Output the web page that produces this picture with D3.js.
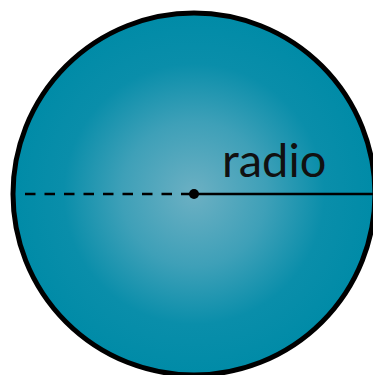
<!DOCTYPE html>
<html><head><meta charset="utf-8">
<script src="https://cdn.jsdelivr.net/npm/d3@7"></script>
<style>html,body{margin:0;padding:0;background:#fff;overflow:hidden}</style>
</head><body>
<svg id="c" width="373" height="375"></svg>
<script>
const labels = ["radio"];
const radiusValue = [1];
const gradientStops = [
  {offset: 0, color: "#6cb0c3"},
  {offset: 0.4, color: "#3ea0b8"},
  {offset: 0.72, color: "#0a8eaa"},
  {offset: 1, color: "#008ba7"}
];
const svg = d3.select("#c");
const cx = 194, cy = 194, R = 181;
const x = d3.scaleLinear().domain([-1, 1]).range([cx - R, cx + R]);
const defs = svg.append("defs");
const g = defs.append("radialGradient").attr("id", "rg").attr("cx", "50%").attr("cy", "50%").attr("r", "50%");
g.selectAll("stop").data(gradientStops).join("stop")
  .attr("offset", d => d.offset).attr("stop-color", d => d.color);
svg.append("circle").attr("cx", cx).attr("cy", cy).attr("r", x(radiusValue[0]) - cx)
  .attr("fill", "url(#rg)").attr("stroke", "#000").attr("stroke-width", 5);
svg.append("line").attr("x1", x(-radiusValue[0]) + 12).attr("x2", cx).attr("y1", cy).attr("y2", cy)
  .attr("stroke", "#000").attr("stroke-width", 2.5).attr("stroke-dasharray", "10.5,9");
svg.append("line").attr("x1", cx).attr("x2", x(radiusValue[0])).attr("y1", cy).attr("y2", cy)
  .attr("stroke", "#000").attr("stroke-width", 2.5);
svg.append("circle").attr("cx", cx).attr("cy", cy).attr("r", 5).attr("fill", "#000");
svg.append("text").attr("x", 222).attr("y", 177).text(labels[0])
  .attr("font-family", "Lato, 'Noto Sans', sans-serif").attr("font-size", 47).attr("fill", "#111");
</script>
</body></html>
